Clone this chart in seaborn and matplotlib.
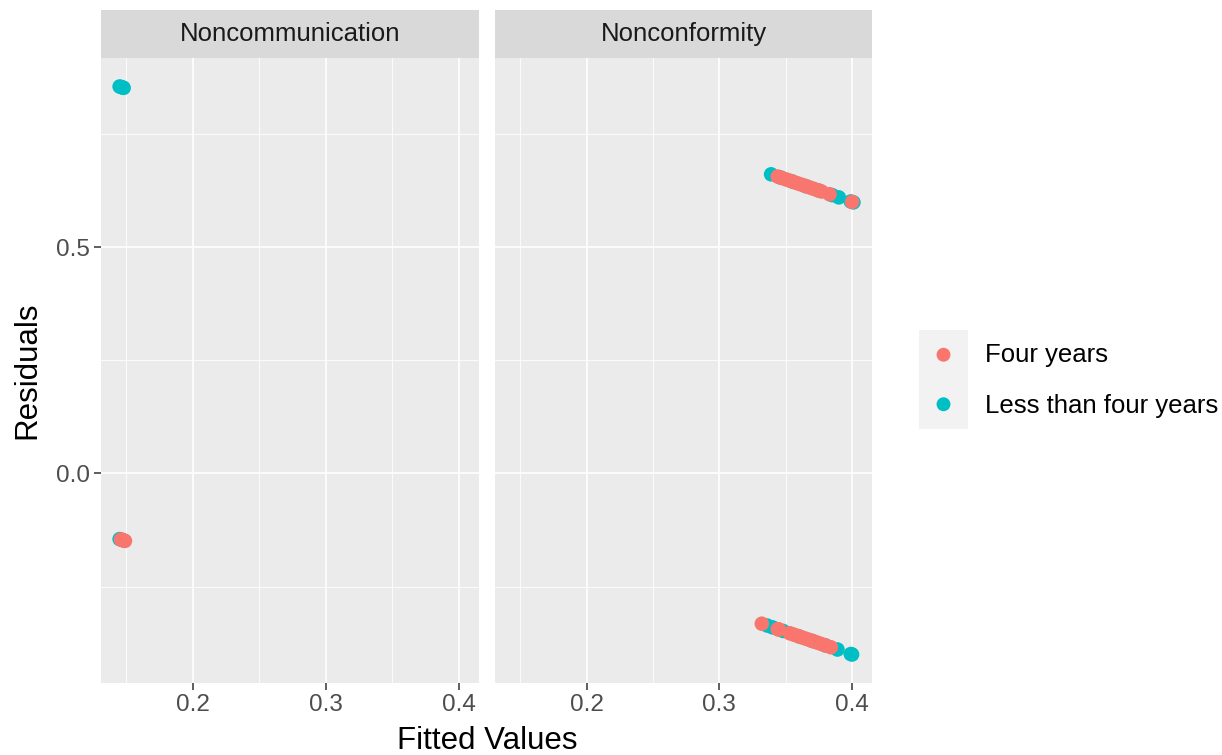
import numpy as np
import pandas as pd
import matplotlib
matplotlib.use("Agg")
import matplotlib.pyplot as plt
import seaborn as sns

# --- data ---
groups = ["Four years", "Less than four years"]
colors = ["#F8766D", "#00BFC4"]
panels = ["Noncommunication", "Nonconformity"]

# Noncommunication
nc_less_fit = [0.145, 0.146, 0.147, 0.148, 0.145, 0.147]
nc_less_res = [0.855, 0.854, 0.853, 0.852, -0.145, -0.147]
nc_four_fit = [0.146, 0.147, 0.148, 0.149]
nc_four_res = [-0.146, -0.147, -0.148, -0.149]

# Nonconformity
nf_less_fit = [0.339, 0.346, 0.355, 0.365, 0.375, 0.385, 0.390, 0.399, 0.401,
               0.336, 0.340, 0.348, 0.360, 0.370, 0.380, 0.389, 0.399, 0.400]
nf_less_res = [0.661, 0.654, 0.645, 0.635, 0.625, 0.615, 0.610, 0.601, 0.599,
               -0.336, -0.340, -0.348, -0.360, -0.370, -0.380, -0.389, -0.399, -0.400]
nf_four_fit = [0.344, 0.347, 0.350, 0.353, 0.356, 0.359, 0.362, 0.365, 0.368,
               0.371, 0.374, 0.377, 0.383, 0.400,
               0.332, 0.344, 0.345, 0.353, 0.356, 0.359, 0.362, 0.365, 0.368,
               0.371, 0.374, 0.377, 0.380, 0.384]
nf_four_res = [0.656, 0.653, 0.650, 0.647, 0.644, 0.641, 0.638, 0.635, 0.632,
               0.629, 0.626, 0.623, 0.617, 0.600,
               -0.332, -0.344, -0.345, -0.353, -0.356, -0.359, -0.362, -0.365, -0.368,
               -0.371, -0.374, -0.377, -0.380, -0.384]

x_ticks = [0.2, 0.3, 0.4]
x_minor = [0.15, 0.25, 0.35]
y_ticks = [0.0, 0.5]
y_ticks_lab = ["0.0", "0.5"]
y_minor = [-0.25, 0.25, 0.75]


def make_df(less_fit, less_res, four_fit, four_res):
    return pd.DataFrame({
        "fitted": list(less_fit) + list(four_fit),
        "resid": list(less_res) + list(four_res),
        "group": [groups[1]] * len(less_fit) + [groups[0]] * len(four_fit),
    })


frames = [make_df(nc_less_fit, nc_less_res, nc_four_fit, nc_four_res),
          make_df(nf_less_fit, nf_less_res, nf_four_fit, nf_four_res)]

plt.rcParams["font.family"] = ["Liberation Sans", "DejaVu Sans"]
W, H = 1222, 755
fig = plt.figure(figsize=(W / 100, H / 100), dpi=100)


def fx(px):
    return px / W


def fy(py):
    return 1 - py / H


panel_x = [(101, 479), (495, 872)]
top, bottom = 58, 683
strip_top = 10
palette = dict(zip(groups, colors))

for i, (name, df) in enumerate(zip(panels, frames)):
    x0, x1 = panel_x[i]
    ax = fig.add_axes([fx(x0), fy(bottom), fx(x1 - x0), (bottom - top) / H])
    ax.set_facecolor("#EBEBEB")
    for v in x_minor:
        ax.axvline(v, color="white", lw=0.6, zorder=0)
    for v in y_minor:
        ax.axhline(v, color="white", lw=0.6, zorder=0)
    for v in x_ticks:
        ax.axvline(v, color="white", lw=1.2, zorder=0)
    for v in y_ticks:
        ax.axhline(v, color="white", lw=1.2, zorder=0)
    sns.scatterplot(data=df, x="fitted", y="resid", hue="group", palette=palette,
                    s=110, edgecolor="none", linewidth=0, legend=False, ax=ax, zorder=3)
    ax.set_xlim(0.131, 0.415)
    ax.set_ylim(-0.463, 0.918)
    ax.set_xticks(x_ticks)
    ax.set_xticklabels([str(t) for t in x_ticks])
    ax.set_xlabel("")
    ax.set_ylabel("")
    for sp in ax.spines.values():
        sp.set_visible(False)
    ax.tick_params(axis="both", length=5, width=1.1, color="#333333",
                   labelcolor="#4D4D4D", labelsize=17.5, pad=3)
    if i == 0:
        ax.set_yticks(y_ticks)
        ax.set_yticklabels(y_ticks_lab)
    else:
        ax.set_yticks([])
    # strip
    sax = fig.add_axes([fx(x0), fy(top), fx(x1 - x0), (top - strip_top) / H])
    sax.set_facecolor("#D9D9D9")
    sax.set_xticks([])
    sax.set_yticks([])
    for sp in sax.spines.values():
        sp.set_visible(False)
    sax.text(0.5, 0.5, name, ha="center", va="center", fontsize=18.5,
             color="#1A1A1A", transform=sax.transAxes)

fig.text(fx(487), fy(741), "Fitted Values", ha="center", va="center", fontsize=22.5)
fig.text(fx(27), fy(370), "Residuals", ha="center", va="center", fontsize=22.5,
         rotation=90)

# legend
lax = fig.add_axes([fx(919), fy(429), fx(49), 99 / H])
lax.set_facecolor("#F2F2F2")
lax.set_xlim(0, 1)
lax.set_ylim(0, 2)
lax.set_xticks([])
lax.set_yticks([])
for sp in lax.spines.values():
    sp.set_visible(False)
for k, (g, c) in enumerate(zip(groups, colors)):
    yk = 1.5 - k
    lax.scatter([0.5], [yk], s=100, color=c, edgecolor="none")
    fig.text(fx(985), fy(355 + 51 * k), g, ha="left", va="center", fontsize=18.5,
             color="#000000")

fig.savefig("out.png", dpi=100)
